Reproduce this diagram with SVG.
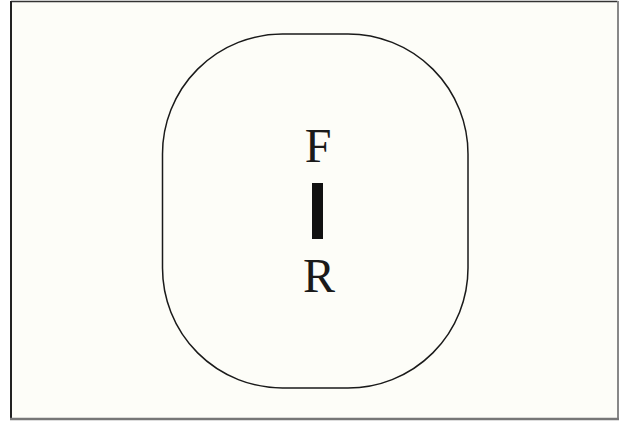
<svg xmlns="http://www.w3.org/2000/svg" width="626" height="421" viewBox="0 0 626 421">
<style>
.lbl{font-family:"Liberation Serif","Times New Roman",serif;font-size:48px;fill:#1a1a1a;text-anchor:middle}
</style>
<rect x="0" y="0" width="626" height="421" fill="#ffffff"/>
<g id="frame">
<rect x="11" y="1.5" width="606.5" height="417" fill="#fdfdf8" stroke="none"/>
<line x1="11" y1="1.5" x2="617.5" y2="1.5" stroke="#333" stroke-width="1.5"/>
<line x1="11" y1="1" x2="11" y2="420" stroke="#222" stroke-width="2"/>
<line x1="618" y1="1" x2="618" y2="420" stroke="#888" stroke-width="2"/>
<line x1="10" y1="419" x2="619" y2="419" stroke="#777" stroke-width="2.5"/>
</g>
<g id="outline">
<rect x="162.5" y="34" width="305.5" height="354" rx="120" ry="120" fill="none" stroke="#1a1a1a" stroke-width="1.5"/>
</g>
<g id="F"><text class="lbl" x="318" y="162">F</text></g>
<g id="bar"><rect x="312" y="183" width="11" height="56" fill="#111"/></g>
<g id="R"><text class="lbl" x="319" y="292">R</text></g>
</svg>
